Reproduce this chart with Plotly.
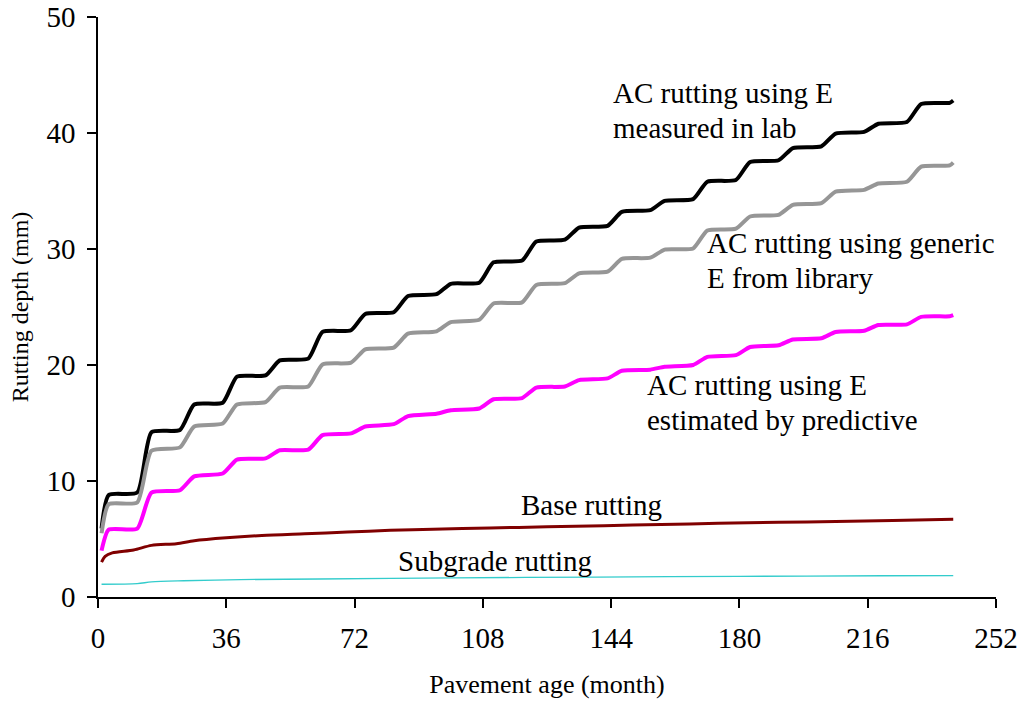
import plotly.graph_objects as go

# Pavement age (months) at the corners of each yearly step (rise start / rise end)
step_months = [1, 3, 11, 15, 23, 27, 35, 39, 47, 51, 59, 63, 71, 75, 83, 87, 95,
               99, 107, 111, 119, 123, 131, 135, 143, 147, 155, 159, 167, 171, 179,
               183, 191, 195, 203, 207, 215, 219, 227, 231, 239, 240]

# AC rutting, E measured in lab (mm)
ac_lab = [5.9, 8.8, 9.0, 14.2, 14.4, 16.6, 16.75, 19.0, 19.1, 20.4, 20.55, 22.85, 23.0,
          24.4, 24.55, 25.95, 26.1, 27.0, 27.1, 28.85, 29.0, 30.65, 30.8, 31.85, 32.0,
          33.2, 33.35, 34.15, 34.3, 35.8, 35.95, 37.5, 37.65, 38.7, 38.85, 39.95, 40.1,
          40.8, 40.95, 42.5, 42.6, 42.8]

# AC rutting, generic E from library (mm)
ac_generic = [5.5, 8.0, 8.15, 12.6, 12.9, 14.7, 14.95, 16.6, 16.8, 18.05, 18.15, 20.05,
              20.2, 21.35, 21.5, 22.7, 22.9, 23.7, 23.9, 25.3, 25.4, 26.9, 27.05, 27.9,
              28.05, 29.15, 29.25, 29.95, 30.05, 31.6, 31.75, 32.8, 32.95, 33.8, 33.95,
              34.95, 35.1, 35.65, 35.8, 37.1, 37.2, 37.45]

# AC rutting, E estimated by predictive equation (mm)
ac_predictive = [4.0, 5.8, 5.9, 9.0, 9.2, 10.4, 10.65, 11.85, 11.95, 12.65, 12.7, 13.95,
                 14.1, 14.7, 14.9, 15.6, 15.8, 16.1, 16.25, 17.05, 17.15, 18.05, 18.15,
                 18.7, 18.85, 19.5, 19.6, 19.85, 20.0, 20.7, 20.85, 21.55, 21.7, 22.2,
                 22.3, 22.85, 22.95, 23.45, 23.5, 24.15, 24.2, 24.3]

# Base layer rutting (mm)
base_months = [1, 2, 4, 10, 15, 22, 27, 36, 46, 58, 70, 82, 94, 110, 126, 142, 158,
               174, 191, 207, 223, 240]
base_rut = [3.0, 3.5, 3.8, 4.05, 4.45, 4.6, 4.85, 5.1, 5.3, 5.45, 5.6, 5.75, 5.85, 5.95,
            6.05, 6.15, 6.25, 6.35, 6.45, 6.5, 6.6, 6.7]

# Subgrade rutting (mm)
subgrade_months = [1, 11, 15, 24, 40, 62, 100, 140, 180, 220, 240]
subgrade_rut = [1.1, 1.15, 1.3, 1.4, 1.5, 1.55, 1.65, 1.72, 1.78, 1.83, 1.85]

x_ticks = [0, 36, 72, 108, 144, 180, 216, 252]
y_ticks = [0, 10, 20, 30, 40, 50]

FONT = "Liberation Serif"

fig = go.Figure()

series = [
    (step_months, ac_lab, "#000000", 4, 0.55),
    (step_months, ac_generic, "#969696", 4, 0.55),
    (step_months, ac_predictive, "#FF00FF", 4, 0.55),
    (base_months, base_rut, "#800000", 3, 0.8),
    (subgrade_months, subgrade_rut, "#33CCCC", 1.3, 0.8),
]
for xs, ys, color, width, smooth in series:
    fig.add_trace(go.Scatter(
        x=xs, y=ys, mode="lines",
        line=dict(color=color, width=width, shape="spline", smoothing=smooth),
        showlegend=False, hoverinfo="skip",
    ))

labels = [
    ("AC rutting using E", 144.1, 43.45),
    ("measured in lab", 144.1, 40.43),
    ("AC rutting using generic", 170.7, 30.52),
    ("E from library", 170.7, 27.5),
    ("AC rutting using E", 153.9, 18.28),
    ("estimated by predictive", 153.9, 15.26),
    ("Base rutting", 118.3, 7.93),
    ("Subgrade rutting", 83.9, 3.1),
]
for text, xv, yv in labels:
    fig.add_annotation(
        x=xv, y=yv, text=text, showarrow=False,
        xanchor="left", yanchor="middle", borderpad=0,
        font=dict(family=FONT, size=29, color="#000000"),
    )

axis_common = dict(
    showline=True, linecolor="#000000", linewidth=1.5,
    ticks="outside", ticklen=9, tickwidth=1.5, tickcolor="#000000",
    showgrid=False, zeroline=False, automargin=False,
    tickfont=dict(family=FONT, size=29, color="#000000"),
)

fig.update_xaxes(
    range=[0, 252], tickvals=x_ticks, ticktext=[str(v) for v in x_ticks],
    ticklabelstandoff=5,
    title=dict(text="Pavement age (month)", font=dict(family=FONT, size=26, color="#000000"),
               standoff=22),
    **axis_common,
)
fig.update_yaxes(
    range=[0, 50], tickvals=y_ticks, ticktext=[str(v) for v in y_ticks],
    ticklabelstandoff=6,
    title=dict(text="Rutting depth (mm)", font=dict(family=FONT, size=24, color="#000000"),
               standoff=11),
    **axis_common,
)

fig.update_layout(
    width=1021, height=707,
    margin=dict(l=98, r=25, t=17, b=110),
    paper_bgcolor="white", plot_bgcolor="white",
    showlegend=False,
)

fig.write_html("out.html")
